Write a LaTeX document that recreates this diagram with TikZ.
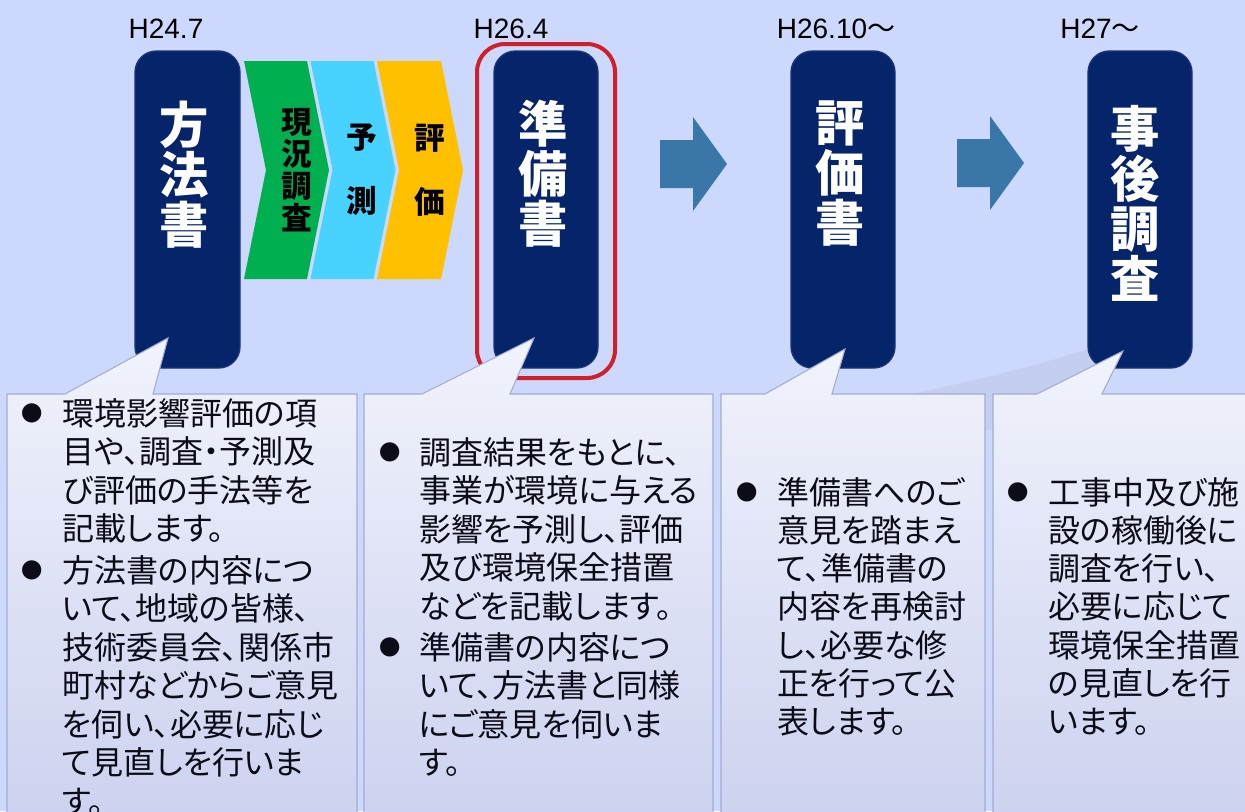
\documentclass[tikz,border=0pt]{standalone}
\usepackage{fontspec}
\setmainfont{Liberation Sans}
\newfontfamily\jp[RawFeature=+palt]{Noto Sans CJK JP}
\newfontfamily\jpfull{Noto Sans CJK JP}
\definecolor{bg}{HTML}{CCD9FD}
\definecolor{swoosh}{HTML}{C3CEF1}
\definecolor{navy}{HTML}{06246A}
\definecolor{navyedge}{HTML}{1B3375}
\definecolor{redring}{HTML}{CF1F2A}
\definecolor{chgreen}{HTML}{00B050}
\definecolor{chcyan}{HTML}{48D2FF}
\definecolor{chorange}{HTML}{FFC000}
\definecolor{arrowblue}{HTML}{3A76A7}
\definecolor{calltop}{HTML}{F1F3FC}
\definecolor{callbot}{HTML}{CCD1EF}
\definecolor{calledge}{HTML}{A4ABD0}
\definecolor{txt}{HTML}{0C0C18}
\tikzset{
  darkbox/.style={fill=navy, draw=navyedge, line width=1pt, rounded corners=16pt},
  vtext/.style={text=white, font=\jp\bfseries\fontsize{37}{37.5}\selectfont, align=center, inner sep=0},
  chevtext/.style={text=black, font=\jp\bfseries\fontsize{23}{24}\selectfont, align=center, inner sep=0},
  datelabel/.style={font=\fontsize{21}{25}\selectfont, anchor=base, inner sep=0, text=black},
  bodyline/.style={font=\jp\fontsize{24}{28}\selectfont, anchor=base west, inner sep=0, text=txt},
  bul/.style={font=\jpfull\fontsize{16}{16}\selectfont, inner sep=0, text=txt},
  callout/.style={draw=calledge, line width=0.8pt, top color=calltop, bottom color=callbot},
  bigarrow/.style={fill=arrowblue},
}
\begin{document}
\begin{tikzpicture}[x=0.75pt,y=-0.75pt]
\clip (0,0) rectangle (1245,811);
\fill[bg] (0,0) rectangle (1245,811);
% faint background swoosh
\fill[swoosh] (860,405) .. controls (940,388) and (1020,372) .. (1100,345) -- (1100,430) -- (860,430) -- cycle;

% date labels
\node[datelabel] (d1) at (166,38) {H24.7};
\node[datelabel] (d2) at (511,38) {H26.4};
\node[datelabel] (d3) at (836,38) {H26.10{\jpfull ～}};
\node[datelabel] (d4) at (1100,38) {H27{\jpfull ～}};

% chevrons
\fill[chgreen] (244,61) -- (307,61) -- (329,170) -- (307,279) -- (244,279) -- (266,170) -- cycle;
\fill[chcyan] (310.5,61) -- (373.5,61) -- (395.5,170) -- (373.5,279) -- (310.5,279) -- (332.5,170) -- cycle;
\fill[chorange] (377,61) -- (441,61) -- (463,170) -- (441,279) -- (377,279) -- (399,170) -- cycle;
\node[chevtext] (c1) at (297,170) {現\\況\\調\\査};
\node[chevtext] (c2) at (362,170) {予\\[24pt]測};
\node[chevtext] (c3) at (430,170) {評\\[24pt]価};

% red ring
\draw[redring, line width=3pt, rounded corners=21pt] (477,44) rectangle (615,378);

% dark boxes
\draw[darkbox] (135,51) rectangle (240,368);
\draw[darkbox] (494,51) rectangle (598,368);
\draw[darkbox] (791,51) rectangle (895,368);
\draw[darkbox] (1088,51) rectangle (1192,368);
\node[vtext] (b1) at (184,175) {方\\法\\書};
\node[vtext] (b2) at (543,174) {準\\備\\書};
\node[vtext] (b3) at (840,174) {評\\価\\書};
\node[vtext] (b4) at (1135,203) {事\\後\\調\\査};

% big arrows
\fill[bigarrow] (660,140) -- (693,140) -- (693,117) -- (727,164) -- (693,211) -- (693,188) -- (660,188) -- cycle;
\fill[bigarrow] (957,139) -- (990,139) -- (990,116) -- (1024,163) -- (990,210) -- (990,187) -- (957,187) -- cycle;

% callouts
\path[callout] (7,394) -- (65,394) -- (168,338) -- (153,394) -- (357,394) -- (357,830) -- (7,830) -- cycle;
\path[callout] (364,394) -- (422,394) -- (534,338) -- (510,394) -- (713,394) -- (713,830) -- (364,830) -- cycle;
\path[callout] (721,394) -- (765,394) -- (845,349) -- (832,394) -- (985,394) -- (985,830) -- (721,830) -- cycle;
\path[callout] (993,394) -- (1037,394) -- (1123,351) -- (1102,394) -- (1260,394) -- (1260,830) -- (993,830) -- cycle;

% box 1 text
\node[bul] (p1a) at (32,413) {●};
\foreach \t [count=\i] in {環境影響評価の項,目や、調査・予測及,び評価の手法等を,記載します。}
  \node[bodyline] (t1a\i) at (62,{425+38.5*(\i-1)}) {\t};
\node[bul] (p1b) at (32,570) {●};
\foreach \t [count=\i] in {方法書の内容につ,いて、地域の皆様、,技術委員会、関係市,町村などからご意見,を伺い、必要に応じ,て見直しを行いま,す。}
  \node[bodyline] (t1b\i) at (62,{582+38.5*(\i-1)}) {\t};

% box 2 text
\node[bul] (p2a) at (390,452) {●};
\foreach \t [count=\i] in {調査結果をもとに、,事業が環境に与える,影響を予測し、評価,及び環境保全措置,などを記載します。}
  \node[bodyline] (t2a\i) at (419,{464+38.5*(\i-1)}) {\t};
\node[bul] (p2b) at (390,647) {●};
\foreach \t [count=\i] in {準備書の内容につ,いて、方法書と同様,にご意見を伺いま,す。}
  \node[bodyline] (t2b\i) at (419,{659+38.5*(\i-1)}) {\t};

% box 3 text
\node[bul] (p3a) at (747,492) {●};
\foreach \t [count=\i] in {準備書へのご,意見を踏まえ,て、準備書の,内容を再検討,し、必要な修,正を行って公,表します。}
  \node[bodyline] (t3a\i) at (777,{504+38.3*(\i-1)}) {\t};

% box 4 text
\node[bul] (p4a) at (1018,492) {●};
\foreach \t [count=\i] in {工事中及び施,設の稼働後に,調査を行い、,必要に応じて,環境保全措置,の見直しを行,います。}
  \node[bodyline] (t4a\i) at (1048,{504+38.3*(\i-1)}) {\t};
\end{tikzpicture}
\end{document}
